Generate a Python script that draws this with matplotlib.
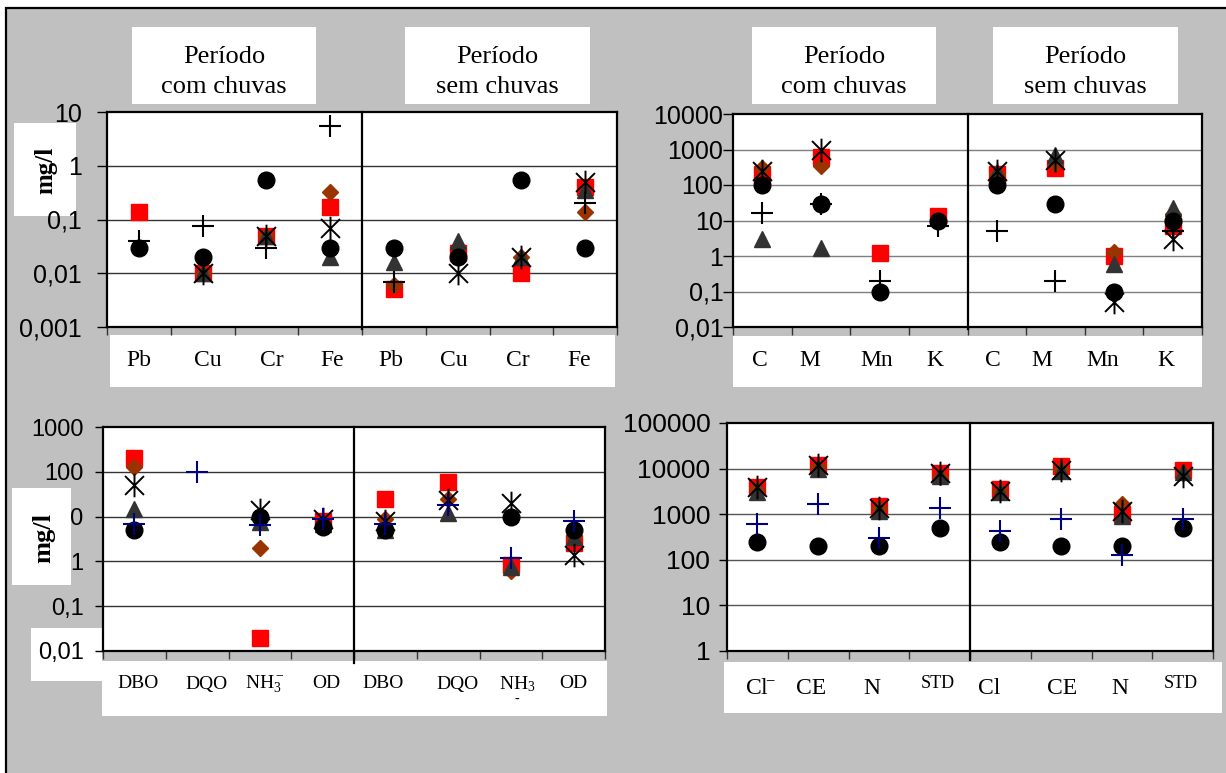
import numpy as np
import matplotlib
matplotlib.use('Agg')
import matplotlib.pyplot as plt
from matplotlib.patches import Rectangle
from matplotlib.path import Path
from matplotlib.transforms import offset_copy

plt.rcParams['mathtext.fontset'] = 'custom'
plt.rcParams['mathtext.rm'] = 'Liberation Serif'
plt.rcParams['mathtext.it'] = 'Liberation Serif:italic'
plt.rcParams['mathtext.bf'] = 'Liberation Serif:bold'

nan = np.nan

# ---------------- data ----------------
# metais (mg/l)
tl_cats = ['Pb', 'Cu', 'Cr', 'Fe', 'Pb', 'Cu', 'Cr', 'Fe']
tl_circle = [0.03, 0.02, 0.55, 0.03, 0.03, 0.02, 0.55, 0.03]
tl_square = [0.14, 0.01, 0.05, 0.17, 0.005, 0.024, 0.01, 0.4]
tl_diamond = [nan, 0.01, 0.05, 0.33, 0.006, 0.02, 0.02, 0.14]
tl_triangle = [nan, 0.01, 0.05, 0.02, 0.016, 0.04, 0.02, 0.35]
tl_star = [nan, 0.01, 0.05, 0.07, nan, 0.01, 0.02, 0.5]
tl_plus = [0.04, 0.075, 0.03, 5.5, 0.007, nan, nan, 0.2]

tr_cats = ['C', 'M', 'Mn', 'K', 'C', 'M', 'Mn', 'K']
tr_circle = [100, 30, 0.1, 10, 100, 30, 0.1, 10]
tr_square = [200, 600, 1.2, 13, 200, 300, 1.0, 7]
tr_diamond = [300, 350, nan, 10, 200, 400, 1.3, 15]
tr_triangle = [3, 1.7, nan, nan, 230, 700, 0.6, 22]
tr_star = [250, 1000, nan, nan, 250, 500, 0.05, 3]
tr_plus = [16, 30, 0.2, 7, 5, 0.2, nan, 5]

bl_cats = ['DBO', 'DQO', 'NH$_3^-$', 'OD', 'DBO', 'DQO', 'NH$_3$', 'OD']
bl_circle = [5, nan, 10, 6, 5, nan, 10, 5]
bl_square = [200, nan, 0.02, 8, 25, 60, 0.85, 2.6]
bl_diamond = [130, nan, 2, 7, 9, 25, 0.6, 3.5]
bl_triangle = [15, nan, 7.5, 7, 5, 12, 0.75, 3.5]
bl_star = [50, nan, 14, 9, 8, 23, 20, 1.4]
bl_plus = [7, 100, 6.5, 9, 7, 18, 1.2, 8]

br_cats = [r'Cl$^{\!\!-}$', 'CE', 'N', 'STD', 'Cl', 'CE', 'N', 'STD']
br_circle = [250, 200, 200, 500, 250, 200, 200, 500]
br_square = [4000, 12000, 1500, 8000, 3600, 11500, 1000, 9500]
br_diamond = [3500, 11000, 1400, 6500, 3300, 10000, 1700, 8000]
br_triangle = [3000, 10000, 1200, 7000, 3000, 9000, 900, 8500]
br_star = [4000, 12000, 1400, 8000, 3300, 9500, 1200, 7000]
br_plus = [600, 1700, 300, 1400, 420, 800, 130, 800]

tl_ticks = [0.001, 0.01, 0.1, 1, 10]
tl_ticklabels = ['0,001', '0,01', '0,1', '1', '10']
tr_ticks = [0.01, 0.1, 1, 10, 100, 1000, 10000]
tr_ticklabels = ['0,01', '0,1', '1', '10', '100', '1000', '10000']
bl_ticks = [0.01, 0.1, 1, 10, 100, 1000]
bl_ticklabels = ['0,01', '0,1', '1', '10', '100', '1000']
br_ticks = [1, 10, 100, 1000, 10000, 100000]
br_ticklabels = ['1', '10', '100', '1000', '10000', '100000']

titles = ['Período\ncom chuvas', 'Período\nsem chuvas']

# ---------------------------------------------------------------
W, H = 1226, 773
fig = plt.figure(figsize=(W / 100, H / 100), dpi=100, facecolor='white')

SERIF = 'Liberation Serif'
SANS = 'Liberation Sans'


def box(x0, y0, x1, y1, z=-5, fc='white', ec='none', lw=0):
    r = Rectangle((x0 / W, 1 - y1 / H), (x1 - x0) / W, (y1 - y0) / H,
                  transform=fig.transFigure, facecolor=fc, edgecolor=ec,
                  lw=lw, zorder=z)
    fig.add_artist(r)
    return r


def make_ax(x0, y0, x1, y1):
    return fig.add_axes([x0 / W, 1 - y1 / H, (x1 - x0) / W, (y1 - y0) / H])


# Excel style "star": an X with a vertical bar through it
star_marker = Path([(-1, -1), (1, 1), (-1, 1), (1, -1), (0, -1.25), (0, 1.25)],
                   [Path.MOVETO, Path.LINETO, Path.MOVETO, Path.LINETO,
                    Path.MOVETO, Path.LINETO])


def draw_panel(ax, circle, square, diamond, triangle, star, plus, ticks,
               ticklabels, plus_color, ysize, ypad, ylen, div_low, grid_c):
    x = np.arange(8)
    ax.set_yscale('log')
    ax.set_xlim(-0.5, 7.5)
    ax.set_ylim(ticks[0], ticks[-1])
    ax.set_yticks(ticks, ticklabels)
    ax.minorticks_off()
    ax.set_xticks(np.arange(-0.5, 8, 1), [])
    ax.tick_params(axis='y', labelsize=ysize, pad=ypad, length=ylen, width=1)
    ax.tick_params(axis='x', length=6, width=1, color='#333333')
    for lab in ax.get_yticklabels():
        lab.set_family(SANS)
    for s in ax.spines.values():
        s.set_linewidth(1.6)
    for t in ticks[1:-1]:
        ax.axhline(t, color=grid_c, lw=1, zorder=1)
    ax.axvline(3.5, ymin=div_low, ymax=1, color='black', lw=1.6,
               clip_on=False, zorder=2)

    ax.plot(x, square, ls='none', marker='s', ms=11.5, color='#ff0000', zorder=3)
    ax.plot(x, diamond, ls='none', marker='D', ms=8, color='#993300', zorder=3)
    ax.plot(x, triangle, ls='none', marker='^', ms=11, color='#333333', zorder=3)
    ax.plot(x, circle, ls='none', marker='o', ms=12, color='black', zorder=3)
    ax.plot(x, star, ls='none', marker=star_marker, ms=17, mfc='none',
            mec='black', mew=1.4, zorder=4)
    ax.plot(x, plus, ls='none', marker='+', ms=16, mec=plus_color,
            mew=1.5, zorder=4)


def cat_labels(ax, cats, dy, size, dx=None, small=(), small_size=13, small_dy=0):
    if dx is None:
        dx = [0] * len(cats)
    for i, lab in enumerate(cats):
        sz, off = (small_size, small_dy) if lab in small else (size, dy)
        tr = offset_copy(ax.get_xaxis_transform(), fig=fig, x=dx[i], y=-off,
                         units='dots')
        ax.text(i, 0, lab, transform=tr, ha='center', va='center',
                fontsize=sz, family=SERIF, clip_on=False)


# gray frame
box(6, 8, 1240, 790, z=-10, fc='#c0c0c0', ec='black', lw=1.6)

# title boxes
title_boxes = [(132, 316), (405, 590), (752, 936), (993, 1178)]
for (x0, x1), t in zip(title_boxes, titles * 2):
    box(x0, 27, x1, 104)
    fig.text((x0 + x1) / 2 / W, 1 - 72 / H, t, ha='center', va='center',
             fontsize=19, family=SERIF, linespacing=1.45)

# label boxes under the axes
box(110, 335, 615, 387)
box(733, 336, 1202, 387)
box(102, 661, 607, 716)
box(31, 628, 102, 681)
box(724, 662, 1222, 713)

# top left: metals (the y label box sits behind the tick labels here)
box(14, 123, 76, 216, z=-4)
fig.text(46 / W, 1 - 170 / H, 'mg/l', rotation=90, ha='center', va='center',
         fontsize=18, weight='bold', family=SERIF, zorder=-3)
ax1 = make_ax(107, 112, 617, 327)
draw_panel(ax1, tl_circle, tl_square, tl_diamond, tl_triangle, tl_star, tl_plus,
           tl_ticks, tl_ticklabels, 'black', 18, 11, 7, -0.01, '#333333')
cat_labels(ax1, tl_cats, 33, 17, dx=[0, 5, 5, 2, -3, -4, -4, -6])

# top right
ax2 = make_ax(733, 114, 1202, 327)
draw_panel(ax2, tr_circle, tr_square, tr_diamond, tr_triangle, tr_star, tr_plus,
           tr_ticks, tr_ticklabels, 'black', 18, 0, 7, -0.01, '#7f7f7f')
cat_labels(ax2, tr_cats, 34, 17, dx=[-2, -11, -3, -3, -4, -14, -11, -7])

# bottom left
ax3 = make_ax(103, 427, 605, 651)
draw_panel(ax3, bl_circle, bl_square, bl_diamond, bl_triangle, bl_star, bl_plus,
           bl_ticks, bl_ticklabels, '#000080', 17, 8, 6, -0.055, '#333333')
cat_labels(ax3, bl_cats, 33, 14, dx=[4, 9, 5, 4, -2, 9, 6, 0])
tr3 = offset_copy(ax3.get_xaxis_transform(), fig=fig, x=6, y=-48, units='dots')
ax3.text(6, 0, '-', transform=tr3, ha='center', va='center', fontsize=10,
         family=SERIF, clip_on=False)

# bottom right
ax4 = make_ax(727, 423, 1213, 651)
draw_panel(ax4, br_circle, br_square, br_diamond, br_triangle, br_star, br_plus,
           br_ticks, br_ticklabels, '#000080', 19, 6, 6, -0.04, '#555555')
cat_labels(ax4, br_cats, 37, 17, dx=[3, -7, -7, -2, -11, 1, -2, -2],
           small=('STD',), small_size=13, small_dy=32)

# bottom left y label box covers part of the tick labels
box(12, 488, 71, 585, z=5)
fig.text(44 / W, 1 - 538 / H, 'mg/l', rotation=90, ha='center', va='center',
         fontsize=19, weight='bold', family=SERIF, zorder=6)

fig.savefig('out.png', dpi=100, facecolor='white')
